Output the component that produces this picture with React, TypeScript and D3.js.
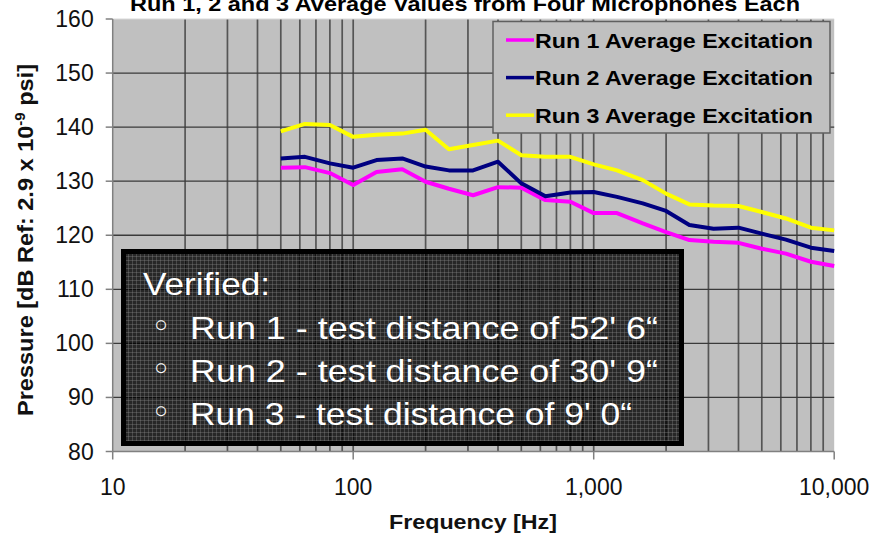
import React from "react";
import * as d3 from "d3";

const freqs = [50, 63, 80, 100, 125, 160, 200, 250, 315, 400, 500, 630, 800, 1000, 1250, 1600, 2000, 2500, 3150, 4000, 5000, 6300, 8000, 10000];
const run1 = [132.5, 132.6, 131.5, 129.3, 131.7, 132.2, 129.9, 128.6, 127.4, 128.9, 128.8, 126.5, 126.2, 124.1, 124.1, 122.2, 120.6, 119.1, 118.8, 118.6, 117.5, 116.6, 115.1, 114.3];
const run2 = [134.2, 134.5, 133.3, 132.5, 133.9, 134.2, 132.7, 132.0, 132.0, 133.6, 129.6, 127.2, 127.9, 128.0, 127.1, 125.9, 124.5, 121.9, 121.2, 121.4, 120.3, 119.2, 117.7, 117.1];
const run3 = [139.2, 140.6, 140.4, 138.2, 138.6, 138.8, 139.5, 135.9, 136.7, 137.5, 134.8, 134.5, 134.5, 133.1, 132.0, 130.2, 127.7, 125.7, 125.5, 125.4, 124.3, 123.1, 121.4, 120.9];

const seriesNames = ["Run 1 Average Excitation", "Run 2 Average Excitation", "Run 3 Average Excitation"];
const seriesColors = ["#ff00ff", "#000080", "#ffff00"];
const yTicks = [80, 90, 100, 110, 120, 130, 140, 150, 160];
const xMajor = [10, 100, 1000, 10000];
const xMajorLabels = ["10", "100", "1,000", "10,000"];
const noteLines = ["Run 1 - test distance of 52' 6\u201C", "Run 2 - test distance of 30' 9\u201C", "Run 3 - test distance of 9' 0\u201C"];
const noteWidths = [468, 468, 442];

const FONT = "'Liberation Sans', Arial, Helvetica, sans-serif";

export default function App() {
  const left = 112.7, right = 834.2, top = 19, bottom = 451.5;
  const x = d3.scaleLog().domain([10, 10000]).range([left, right]);
  const y = d3.scaleLinear().domain([80, 160]).range([bottom, top]);

  const minor: number[] = [];
  [10, 100, 1000].forEach((d) => {
    for (let k = 2; k <= 9; k++) minor.push(d * k);
  });
  minor.push(100, 1000);

  const line = d3
    .line<[number, number]>()
    .x((d) => x(d[0]))
    .y((d) => y(d[1]));
  const series = [run1, run2, run3];

  return (
    <svg
      width={871}
      height={536}
      style={{ position: "absolute", left: 0, top: 0, background: "#fff" }}
      fontFamily={FONT}
    >
      <defs>
        <pattern id="grain" width={4} height={4} patternUnits="userSpaceOnUse">
          <rect x={0} y={0} width={4} height={1} fill="#8a8a8a" opacity={0.35} />
          <rect x={0} y={0} width={1} height={4} fill="#8a8a8a" opacity={0.35} />
        </pattern>
      </defs>

      {/* title (cut off at top, as in the source) */}
      <text x={465} y={11} textAnchor="middle" fontSize={21} fontWeight="bold" fill="#000" textLength={670} lengthAdjust="spacingAndGlyphs">
        Run 1, 2 and 3 Average Values from Four Microphones Each
      </text>

      {/* plot area */}
      <rect x={left} y={top} width={right - left} height={bottom - top} fill="#c0c0c0" />

      {/* vertical grid */}
      {minor.map((f) => (
        <line key={"v" + f} x1={x(f)} x2={x(f)} y1={top} y2={bottom} stroke="#555" strokeWidth={1.7} />
      ))}
      {/* horizontal grid */}
      {yTicks.filter((t) => t > 80 && t < 160).map((t) => (
        <line key={"h" + t} x1={left} x2={right} y1={y(t)} y2={y(t)} stroke="#3a3a3a" strokeWidth={1.3} />
      ))}
      <line x1={left} x2={right} y1={top} y2={top} stroke="#d8d8d8" strokeWidth={1} />

      {/* axes */}
      <line x1={left} x2={left} y1={top} y2={bottom} stroke="#808080" strokeWidth={1.5} />
      <line x1={left} x2={right} y1={bottom} y2={bottom} stroke="#808080" strokeWidth={1.5} />
      {yTicks.map((t) => (
        <g key={"yt" + t}>
          <line x1={left - 7} x2={left} y1={y(t)} y2={y(t)} stroke="#808080" strokeWidth={1.5} />
          <text x={left - 19} y={y(t) + 8} textAnchor="end" fontSize={23} fill="#111">
            {t}
          </text>
        </g>
      ))}
      {xMajor.map((f, i) => (
        <g key={"xt" + f}>
          <line x1={x(f)} x2={x(f)} y1={bottom} y2={bottom + 8} stroke="#808080" strokeWidth={1.5} />
          <text x={x(f)} y={495} textAnchor="middle" fontSize={23} fill="#111">
            {xMajorLabels[i]}
          </text>
        </g>
      ))}

      {/* series */}
      {series.map((s, i) => (
        <path
          key={"s" + i}
          d={line(freqs.map((f, j) => [f, s[j]] as [number, number])) || ""}
          fill="none"
          stroke={seriesColors[i]}
          strokeWidth={4}
          strokeLinejoin="round"
        />
      ))}

      {/* legend */}
      <rect x={493} y={21.5} width={337} height={111.5} fill="#c0c0c0" stroke="#606060" strokeWidth={1.5} />
      {seriesNames.map((n, i) => {
        const cy = 40 + i * 37.6;
        return (
          <g key={"lg" + i}>
            <line x1={506} x2={534} y1={cy} y2={cy} stroke={seriesColors[i]} strokeWidth={3.5} />
            <text x={535} y={cy + 7.5} fontSize={20} fontWeight="bold" fill="#000" textLength={278} lengthAdjust="spacingAndGlyphs">
              {n}
            </text>
          </g>
        );
      })}

      {/* annotation box */}
      <rect x={123.5} y={251.5} width={558} height={192} fill="#000" opacity={0.8} />
      <rect x={123.5} y={251.5} width={558} height={192} fill="url(#grain)" />
      <rect x={123.5} y={251.5} width={558} height={192} fill="none" stroke="#000" strokeWidth={5} />
      <text x={143} y={295} fontSize={32} fill="#fff" textLength={127} lengthAdjust="spacingAndGlyphs">
        Verified:
      </text>
      {noteLines.map((t, i) => {
        const by = 339 + i * 43;
        return (
          <g key={"n" + i}>
            <text x={161} y={by - 1} textAnchor="middle" fontSize={34} fill="#fff" fontFamily="'DejaVu Sans', sans-serif">
              {"\u25E6"}
            </text>
            <text x={190} y={by} fontSize={32} fill="#fff" textLength={noteWidths[i]} lengthAdjust="spacingAndGlyphs">
              {t}
            </text>
          </g>
        );
      })}

      {/* axis titles */}
      <text x={473} y={529} textAnchor="middle" fontSize={20} fontWeight="bold" fill="#111" textLength={168} lengthAdjust="spacingAndGlyphs">
        Frequency [Hz]
      </text>
      <text
        transform="translate(33,240) rotate(-90)"
        textAnchor="middle"
        fontSize={22}
        fontWeight="bold"
        fill="#111"
        textLength={352}
        lengthAdjust="spacingAndGlyphs"
      >
        Pressure [dB Ref: 2.9 x 10
        <tspan dy={-8} fontSize={14}>-9</tspan>
        <tspan dy={8}> psi]</tspan>
      </text>
    </svg>
  );
}
